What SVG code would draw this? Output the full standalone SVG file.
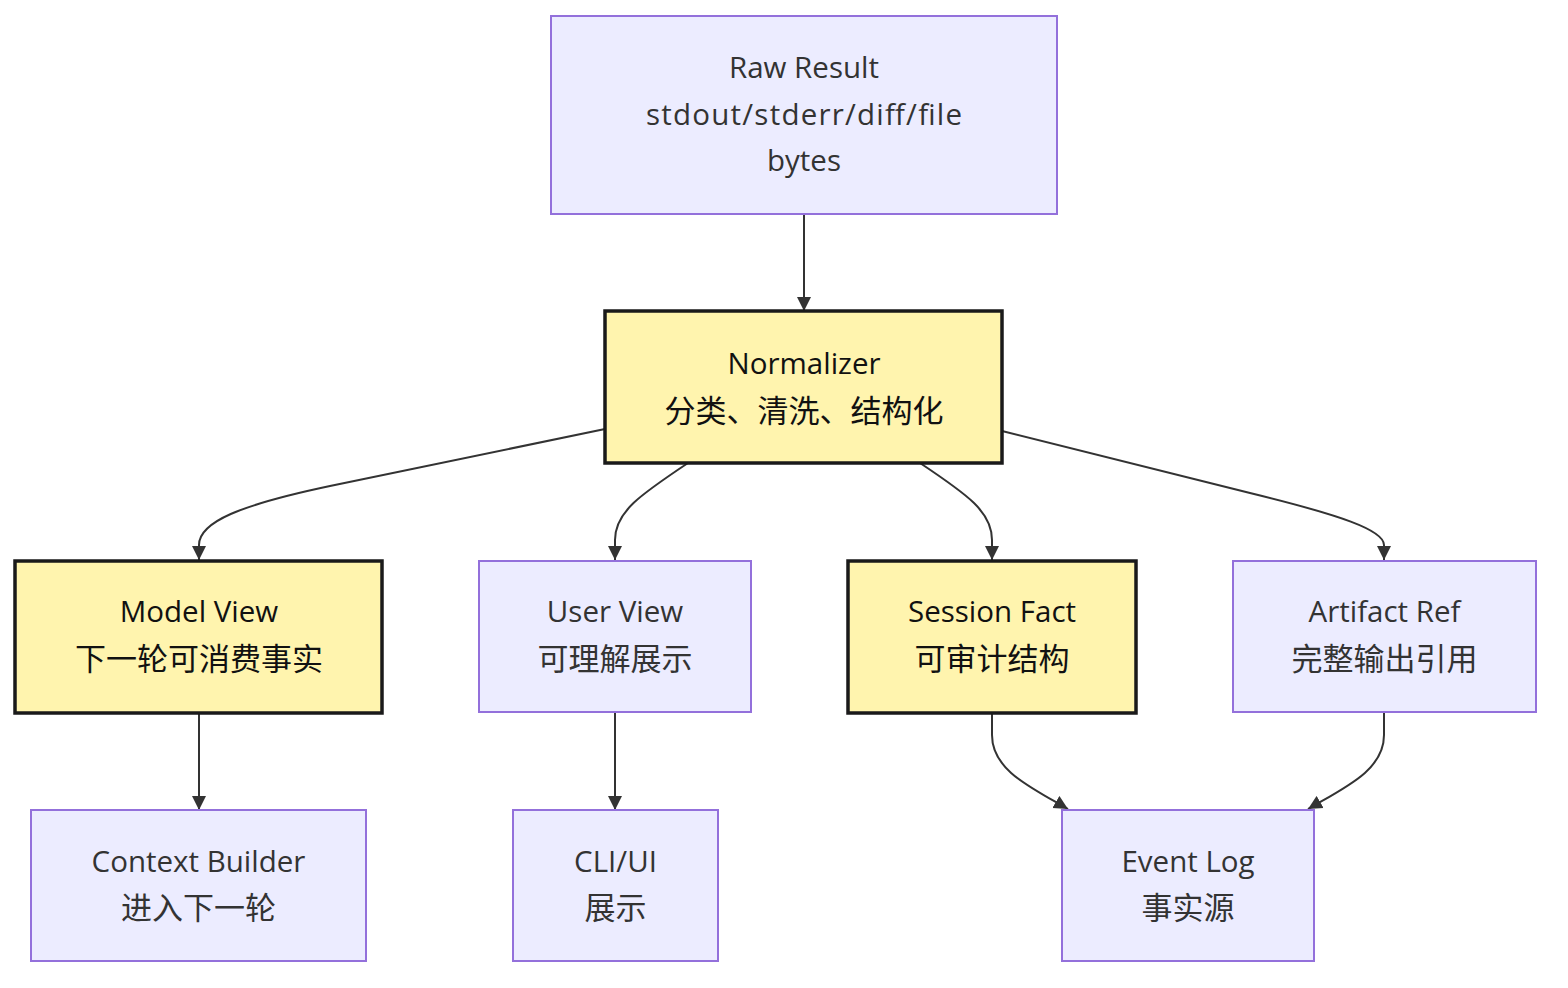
<svg xmlns="http://www.w3.org/2000/svg" width="1568" height="988" viewBox="0 0 1568 988">
<style>
.bg{fill:#ffffff}
.lav rect{fill:#ECECFF;stroke:#9370DB;stroke-width:2}
.yel rect{fill:#FFF4AE;stroke:#1a1a1a;stroke-width:3.5}
text{font-family:"Open Sans","Noto Sans CJK SC",sans-serif;text-anchor:middle;dominant-baseline:central}
.lav text{fill:#333333}
.yel text{fill:#111111}
.lt{font-size:29.5px}
.cj{font-size:31px;font-family:"Noto Sans CJK SC",sans-serif}
.edge{fill:none;stroke:#333333;stroke-width:2}
</style>
<defs>
<marker id="arr" viewBox="0 0 10 10" refX="10" refY="5" markerWidth="14" markerHeight="15" markerUnits="userSpaceOnUse" orient="auto">
<path d="M0,0 L10,5 L0,10 z" fill="#333333"/>
</marker>
</defs>
<rect class="bg" x="0" y="0" width="1568" height="988"/>
<g id="edges">
<path class="edge" d="M804,214 L804,311" marker-end="url(#arr)"/>
<path class="edge" d="M605,429 L330,486 C240,505 199,522 199,545 L199,560" marker-end="url(#arr)"/>
<path class="edge" d="M688,463 C640,495 615,512 615,540 L615,560" marker-end="url(#arr)"/>
<path class="edge" d="M920,463 C968,495 992,512 992,540 L992,560" marker-end="url(#arr)"/>
<path class="edge" d="M1002,431 L1250,493 C1340,515 1384,530 1384,545 L1384,560" marker-end="url(#arr)"/>
<path class="edge" d="M199,713 L199,810" marker-end="url(#arr)"/>
<path class="edge" d="M615,712 L615,810" marker-end="url(#arr)"/>
<path class="edge" d="M992,713 L992,735 C992,770 1030,787 1068,809" marker-end="url(#arr)"/>
<path class="edge" d="M1384,712 L1384,735 C1384,770 1346,787 1308,809" marker-end="url(#arr)"/>
</g>
<g id="raw" class="lav">
<rect x="551" y="16" width="506" height="198"/>
<text class="lt" x="804" y="66">Raw Result</text>
<text class="lt" x="804" y="113" textLength="316" lengthAdjust="spacing">stdout/stderr/diff/file</text>
<text class="lt" x="804" y="159">bytes</text>
</g>
<g id="normalizer" class="yel">
<rect x="605" y="311" width="397" height="152"/>
<text class="lt" x="804" y="362">Normalizer</text>
<text class="cj" x="804" y="408">分类、清洗、结构化</text>
</g>
<g id="modelview" class="yel">
<rect x="15" y="561" width="367" height="152"/>
<text class="lt" x="199" y="610">Model View</text>
<text class="cj" x="199" y="656">下一轮可消费事实</text>
</g>
<g id="userview" class="lav">
<rect x="479" y="561" width="272" height="151"/>
<text class="lt" x="615" y="610">User View</text>
<text class="cj" x="615" y="656">可理解展示</text>
</g>
<g id="sessionfact" class="yel">
<rect x="848" y="561" width="288" height="152"/>
<text class="lt" x="992" y="610">Session Fact</text>
<text class="cj" x="992" y="656">可审计结构</text>
</g>
<g id="artifactref" class="lav">
<rect x="1233" y="561" width="303" height="151"/>
<text class="lt" x="1384.5" y="610">Artifact Ref</text>
<text class="cj" x="1384.5" y="656">完整输出引用</text>
</g>
<g id="contextbuilder" class="lav">
<rect x="31" y="810" width="335" height="151"/>
<text class="lt" x="198.5" y="860">Context Builder</text>
<text class="cj" x="198.5" y="905">进入下一轮</text>
</g>
<g id="cliui" class="lav">
<rect x="513" y="810" width="205" height="151"/>
<text class="lt" x="615.5" y="860">CLI/UI</text>
<text class="cj" x="615.5" y="905">展示</text>
</g>
<g id="eventlog" class="lav">
<rect x="1062" y="810" width="252" height="151"/>
<text class="lt" x="1188" y="860">Event Log</text>
<text class="cj" x="1188" y="905">事实源</text>
</g>
</svg>
